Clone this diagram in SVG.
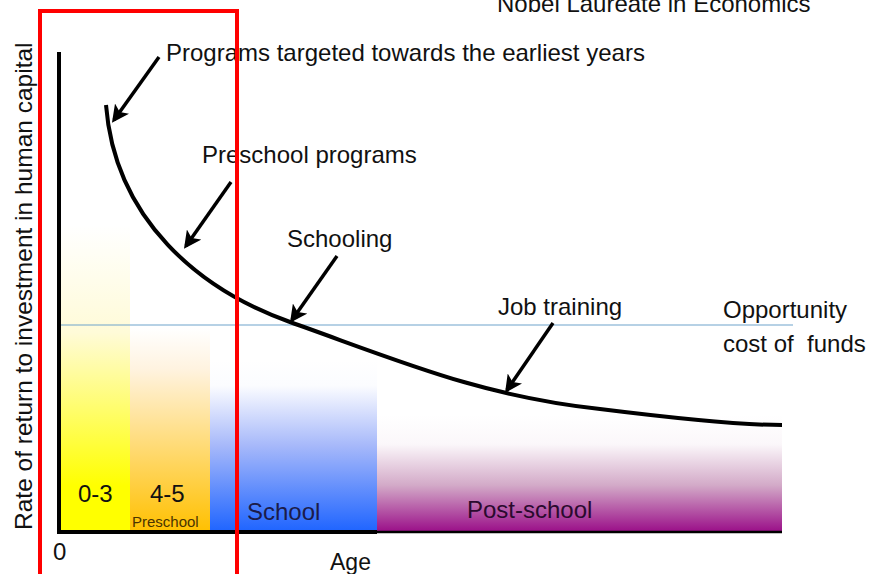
<svg xmlns="http://www.w3.org/2000/svg" width="871" height="574" viewBox="0 0 871 574">
<style>
text{font-family:"Liberation Sans",Arial,sans-serif;fill:#111;}
.lbl{font-size:24px;}
.arrow{stroke:#000;stroke-width:3.5;fill:none;marker-end:url(#ah);}
</style>
<defs>
<marker id="ah" markerWidth="5" markerHeight="5" refX="4" refY="2.5" orient="auto" markerUnits="strokeWidth">
<path d="M0,0 L5,2.5 L0,5 L1.2,2.5 Z" fill="#000"/>
</marker>
<linearGradient id="gY" x1="0" y1="0" x2="0" y2="1">
<stop offset="0" stop-color="#fff"/>
<stop offset="0.35" stop-color="#fffbd8"/>
<stop offset="0.85" stop-color="#ffff00"/>
<stop offset="1" stop-color="#ffff00"/>
</linearGradient>
<linearGradient id="gO" x1="0" y1="0" x2="0" y2="1">
<stop offset="0" stop-color="#fff"/>
<stop offset="0.2" stop-color="#fff3e0"/>
<stop offset="1" stop-color="#ffc000"/>
</linearGradient>
<linearGradient id="gB" x1="0" y1="0" x2="0" y2="1">
<stop offset="0" stop-color="#fff"/>
<stop offset="0.15" stop-color="#fbfcff"/>
<stop offset="0.5" stop-color="#a6b8fa"/>
<stop offset="1" stop-color="#1e64ff"/>
</linearGradient>
<linearGradient id="gP" x1="0" y1="0" x2="0" y2="1">
<stop offset="0" stop-color="#fff"/>
<stop offset="0.25" stop-color="#fbf7fa"/>
<stop offset="0.6" stop-color="#d3aac8"/>
<stop offset="1" stop-color="#9a0e88"/>
</linearGradient>
</defs>
<rect width="871" height="574" fill="#fff"/>

<g id="bars">
<g id="bar-0-3"><rect x="61" y="225" width="69" height="307" fill="url(#gY)"/><text class="lbl" x="78" y="502">0-3</text></g>
<g id="bar-4-5"><rect x="130" y="328" width="80" height="204" fill="url(#gO)"/><text class="lbl" x="150" y="502">4-5</text><text x="132" y="527" font-size="15" style="fill:#4a3300">Preschool</text></g>
<g id="bar-school"><rect x="210" y="360" width="167" height="172" fill="url(#gB)"/><text class="lbl" x="247" y="520" style="fill:#1b1b4a">School</text></g>
<g id="bar-post"><rect x="377" y="415" width="405" height="117" fill="url(#gP)"/><text class="lbl" x="467" y="518" style="fill:#2a0a2e">Post-school</text></g>
</g>

<g id="opportunity-line">
<line x1="61" y1="325" x2="793" y2="325" stroke="#6fa3cc" stroke-width="1.2"/>
<text class="lbl" x="723" y="318">Opportunity</text>
<text class="lbl" x="723" y="352" xml:space="preserve">cost of  funds</text>
</g>

<g id="axes">
<line x1="59" y1="52" x2="59" y2="534" stroke="#000" stroke-width="4"/>
<line x1="57" y1="532" x2="377" y2="532" stroke="#000" stroke-width="4"/>
<line x1="377" y1="532" x2="782" y2="532" stroke="#000" stroke-width="2.5"/>
<text class="lbl" x="53" y="560">0</text>
<text x="330" y="570" font-size="23">Age</text>
<text x="0" y="0" font-size="24.5" transform="translate(32,530) rotate(-90)">Rate of return to investment in human capital</text>
</g>

<g id="curve">
<path d="M106,105 C115,220 200,290 290,322 C400,361 480,396 600,409 C680,419 740,425 782,425" fill="none" stroke="#000" stroke-width="4"/>
</g>

<g id="labels">
<text class="lbl" id="t-earliest" x="166" y="61">Programs targeted towards the earliest years</text>
<text class="lbl" id="t-preschool" x="202" y="163">Preschool programs</text>
<text class="lbl" id="t-schooling" x="287" y="247">Schooling</text>
<text class="lbl" id="t-job" x="498" y="315">Job training</text>
<text class="lbl" id="t-nobel" x="497" y="12">Nobel Laureate in Economics</text>
</g>

<g id="connectors">
<line class="arrow" x1="159" y1="57" x2="114" y2="120"/>
<line class="arrow" x1="231" y1="182" x2="186" y2="246"/>
<line class="arrow" x1="337" y1="256" x2="292" y2="320"/>
<line class="arrow" x1="553" y1="323" x2="507" y2="390"/>
</g>

<g id="highlight">
<rect x="40" y="11" width="197" height="600" fill="none" stroke="#ff0000" stroke-width="4"/>
</g>
</svg>
